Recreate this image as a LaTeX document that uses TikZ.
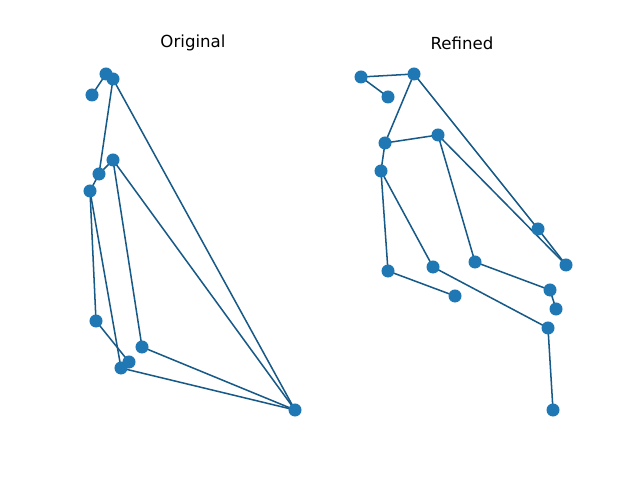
\documentclass[tikz,border=0pt]{standalone}
\usepackage{fontspec}
\setmainfont{DejaVu Sans}
\usetikzlibrary{backgrounds}
\definecolor{cz}{HTML}{1F77B4}
\tikzset{
  kp/.style={circle,fill=cz,draw=none,inner sep=0pt,minimum size=0.13in},
  bone/.style={draw=cz!75!black,line width=1.1pt},
  ttl/.style={font=\fontsize{12}{14}\selectfont,inner sep=0pt}
}
\begin{document}
\begin{tikzpicture}[x=0.01in,y=-0.01in]
\useasboundingbox (0,0) rectangle (640,480);
\node[ttl] (t1) at (193,43) {Original};
\node[ttl] (t2) at (462,43) {Refined};
% original
\node[kp] (a1) at (106,74) {};
\node[kp] (a2) at (113,79) {};
\node[kp] (a3) at (92,95) {};
\node[kp] (a4) at (113,160) {};
\node[kp] (a5) at (99,174) {};
\node[kp] (a6) at (90,191) {};
\node[kp] (a7) at (96,321) {};
\node[kp] (a8) at (142,347) {};
\node[kp] (a9) at (129,362) {};
\node[kp] (a10) at (121,368) {};
\node[kp] (a11) at (295,410) {};
% refined
\node[kp] (b1) at (361,77) {};
\node[kp] (b2) at (414,74) {};
\node[kp] (b3) at (388,97) {};
\node[kp] (b4) at (385,143) {};
\node[kp] (b5) at (438,135) {};
\node[kp] (b6) at (381,171) {};
\node[kp] (b7) at (538,229) {};
\node[kp] (b8) at (566,265) {};
\node[kp] (b9) at (388,271) {};
\node[kp] (b10) at (433,267) {};
\node[kp] (b11) at (475,262) {};
\node[kp] (b12) at (455,296) {};
\node[kp] (b13) at (550,290) {};
\node[kp] (b14) at (556,309) {};
\node[kp] (b15) at (548,328) {};
\node[kp] (b16) at (553,410) {};
\begin{pgfonlayer}{background}
\foreach \u/\v in {a1/a3,a1/a2,a2/a5,a2/a11,a4/a5,a5/a6,a6/a7,a6/a10,a4/a8,a4/a11,a7/a9,a8/a11,a10/a11,a9/a10,
  b1/b2,b1/b3,b2/b4,b2/b7,b7/b8,b5/b8,b4/b5,b4/b6,b6/b9,b6/b10,b5/b11,b9/b12,b10/b15,b11/b13,b13/b14,b15/b16}
  \draw[bone] (\u.center) -- (\v.center);
\end{pgfonlayer}
\end{tikzpicture}
\end{document}
